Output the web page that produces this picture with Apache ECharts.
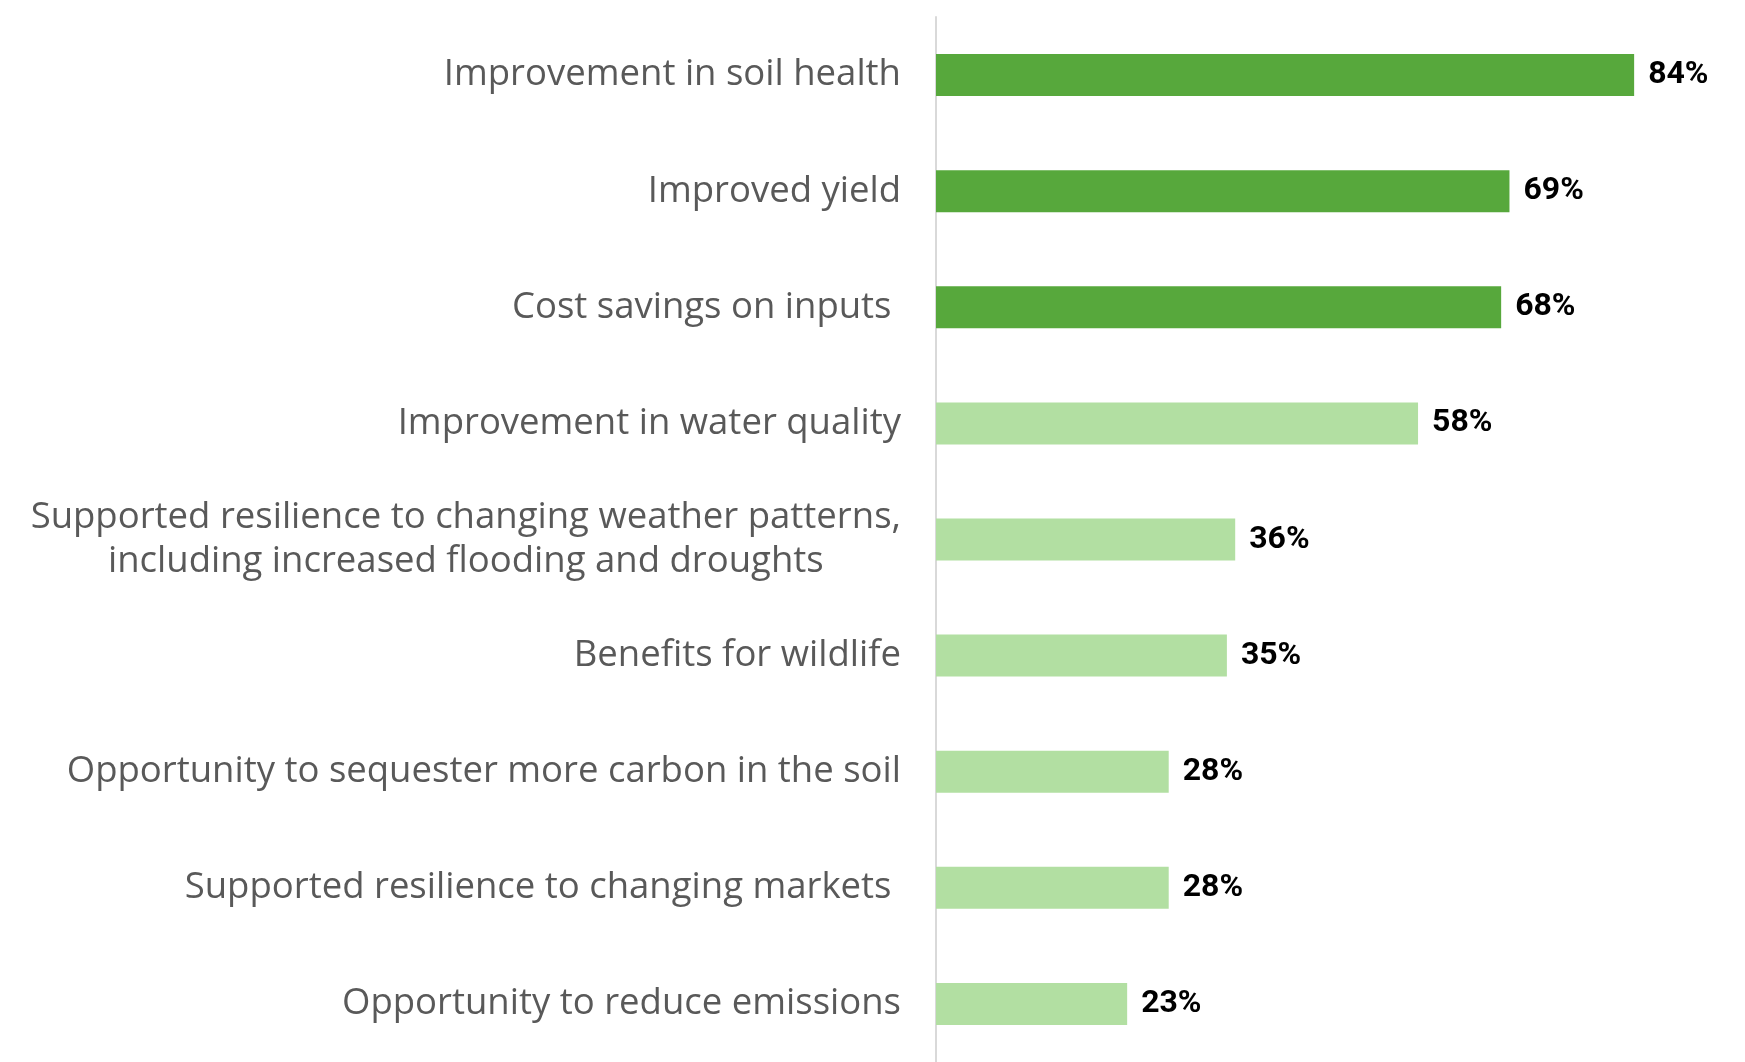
<!DOCTYPE html>
<html>
<head>
<meta charset="utf-8">
<script src="https://cdn.jsdelivr.net/npm/echarts@6/dist/echarts.min.js"></script>
<style>
  html, body { margin: 0; padding: 0; background: #fff; }
  #chart { width: 1745px; height: 1062px; }
</style>
</head>
<body>
<div id="chart"></div>
<script>
// categories listed top to bottom
const categories = [
    'Improvement in soil health',
    'Improved yield',
    'Cost savings on inputs ',
    'Improvement in water quality',
    'Supported resilience to changing weather patterns,\nincluding increased flooding and droughts',
    'Benefits for wildlife',
    'Opportunity to sequester more carbon in the soil',
    'Supported resilience to changing markets ',
    'Opportunity to reduce emissions'
];
const values = [84, 69, 68, 58, 36, 35, 28, 28, 23];
// top three are highlighted in the darker green
const highlighted = [true, true, true, false, false, false, false, false, false];

const darkGreen = '#57a83c';
const lightGreen = '#b2dfa2';

let myChart = echarts.init(document.getElementById('chart'));

let barData = values.map((v, i) => {
    return {
        value: v,
        itemStyle: { color: highlighted[i] ? darkGreen : lightGreen }
    }
});

let option = {
    animation: false,
    grid: {
        left: 936,
        right: 61,
        top: 17,
        bottom: -5
    },
    xAxis: {
        type: 'value',
        min: 0,
        max: 90,
        show: false
    },
    yAxis: {
        type: 'category',
        inverse: true,
        data: categories,
        axisLine: { show: true, lineStyle: { color: '#d9d9d9', width: 2 } },
        axisTick: { show: false },
        axisLabel: {
            margin: 35,
            color: '#595959',
            fontFamily: 'Open Sans',
            fontSize: 36.5,
            lineHeight: 44,
            formatter: (v) => `{c|${v}}`,
            rich: {
                c: {
                    align: 'center',
                    color: '#595959',
                    fontFamily: 'Open Sans',
                    fontSize: 36.5,
                    lineHeight: 44
                }
            }
        }
    },
    series: [{
        type: 'bar',
        data: barData,
        barWidth: 42,
        label: {
            show: true,
            position: 'right',
            distance: 14,
            formatter: '{c}%',
            color: '#000',
            fontFamily: 'Roboto',
            fontWeight: 'bold',
            fontSize: 32
        }
    }]
};
myChart.setOption(option);
</script>
</body>
</html>
